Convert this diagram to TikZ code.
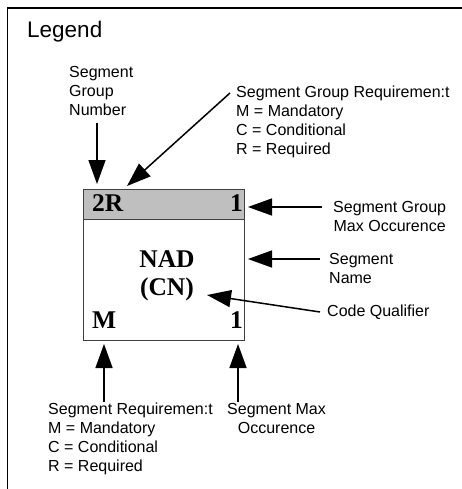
\documentclass[tikz,border=0pt]{standalone}
\usepackage{fontspec}
\setmainfont{Liberation Sans}
\newfontfamily\segfont{Liberation Serif}
\usepackage{tikz}
\usetikzlibrary{positioning,arrows.meta}

\tikzset{
  lbl/.style={anchor=north west, inner sep=0pt, align=left, font=\fontsize{16}{19}\selectfont},
  ptr/.style={line width=1.5pt, -{Triangle[length=24pt,width=17pt]}},
  segtxt/.style={inner sep=0pt, font=\segfont\bfseries\fontsize{25.5}{28}\selectfont},
}

\begin{document}
\begin{tikzpicture}[x=1pt,y=-1pt]
\useasboundingbox (0,0) rectangle (461,489);
\draw[line width=1.5pt] (7.5,500) -- (7.5,8) -- (470,8);
\node[lbl, font=\fontsize{22.5}{26}\selectfont] (legend) at (27,20.5) {Legend};

\node[draw=black!75, line width=0.8pt, anchor=north west, inner sep=0pt,
  minimum width=161pt, minimum height=151pt] (seg) at (83,189) {};
\draw[draw=black!75, line width=0.8pt, fill=black!25] (seg.north west) rectangle ([yshift=-30pt]seg.north east);

\node[segtxt, anchor=base west] (grpreqval) at (92,211.5) {2R};
\node[segtxt, anchor=base east] (grpmaxval) at (243,211.5) {1};
\node[segtxt, anchor=base] (segname) at (167,267) {NAD};
\node[segtxt, anchor=base] (segqual) at (167,295) {(CN)};
\node[segtxt, anchor=base west] (segreqval) at (92,328) {M};
\node[segtxt, anchor=base east] (segmaxval) at (243,328) {1};

\node[lbl] (grpnum) at (69,66) {Segment\\Group\\Number};
\node[lbl] (grpreq) at (236,86) {Segment Group Requiremen:t\\M = Mandatory\\C = Conditional\\R = Required};
\node[lbl, align=center] (grpmax) at (333,201) {Segment Group\\Max Occurence};
\node[lbl] (namelbl) at (329,253) {Segment\\Name};
\node[lbl] (codelbl) at (327,305) {Code Qualifier};
\node[lbl] (segreq) at (48,403) {Segment Requiremen:t\\M = Mandatory\\C = Conditional\\R = Required};
\node[lbl, align=center] (segmax) at (227,403) {Segment Max\\Occurence};

\coordinate (grpnumtail) at (97,123);
\coordinate (grpnumtip) at (97,184);
\coordinate (grpreqtail) at (230,93);
\coordinate (grpreqtip) at (127,186);
\coordinate (grpmaxtail) at (322,207);
\coordinate (grpmaxtip) at (248,207);
\coordinate (nametail) at (320,259);
\coordinate (nametip) at (248,259);
\coordinate (codetail) at (320,312);
\coordinate (codetip) at (207,295);
\coordinate (segreqtail) at (104,402);
\coordinate (segreqtip) at (104,344);
\coordinate (segmaxtail) at (238,402);
\coordinate (segmaxtip) at (238,344);

\draw[ptr] (grpnumtail) -- (grpnumtip);
\draw[ptr] (grpreqtail) -- (grpreqtip);
\draw[ptr] (grpmaxtail) -- (grpmaxtip);
\draw[ptr] (nametail) -- (nametip);
\draw[ptr] (codetail) -- (codetip);
\draw[ptr] (segreqtail) -- (segreqtip);
\draw[ptr] (segmaxtail) -- (segmaxtip);
\end{tikzpicture}
\end{document}
